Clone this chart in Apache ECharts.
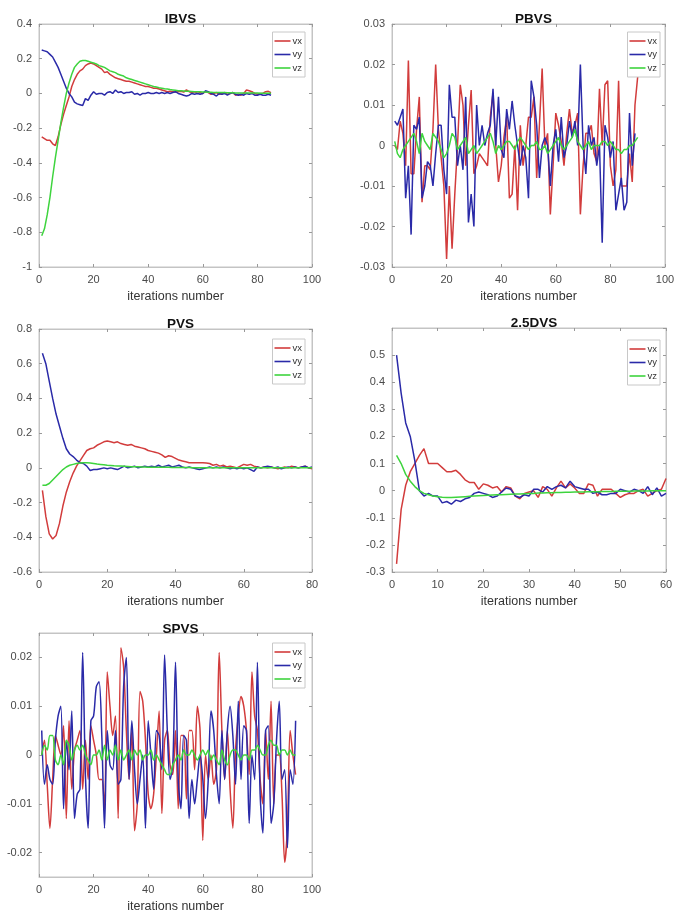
<!DOCTYPE html>
<html>
<head>
<meta charset="utf-8">
<script src="https://cdn.jsdelivr.net/npm/echarts@6/dist/echarts.min.js"></script>
<style>
html,body{margin:0;padding:0;background:#fff;}
#chart{width:685px;height:918px;}
</style>
</head>
<body>
<div id="chart"></div>
<script>
// ---------------- DATA ----------------
const seriesNames = ['vx', 'vy', 'vz'];
const panelTitles = ['IBVS', 'PBVS', 'PVS', '2.5DVS', 'SPVS'];
const xAxisName = 'iterations number';

// IBVS (iterations 1..85)
const ibvsVx = [-0.25,-0.26,-0.27,-0.27,-0.29,-0.30,-0.25,-0.18,-0.12,-0.07,-0.02,0.04,0.08,0.11,0.13,0.14,0.16,0.17,0.175,0.17,
  0.16,0.15,0.14,0.12,0.125,0.11,0.10,0.09,0.085,0.08,0.075,0.07,0.07,0.065,0.06,0.055,0.05,0.045,0.04,0.04,
  0.035,0.03,0.03,0.025,0.02,0.015,0.01,0.012,0.01,0.008,0.01,0.012,0.008,0.02,0.01,0.005,0.01,0.0,0.005,0.0,
  0.01,0.005,-0.005,0.0,0.005,-0.005,0.0,0.005,-0.005,0.0,0.005,-0.01,-0.005,-0.01,0.0,0.02,0.015,0.01,0.0,-0.005,
  0.0,0.0,0.01,0.012,0.005];
const ibvsVy = [0.25,0.245,0.24,0.225,0.21,0.18,0.15,0.11,0.07,0.03,0.0,-0.02,-0.05,-0.06,-0.065,-0.07,-0.03,-0.04,-0.01,0.01,
  -0.005,0.0,0.0,-0.01,0.005,0.01,0.0,0.02,0.005,0.01,0.0,0.005,0.005,0.01,-0.005,0.0,-0.01,0.0,0.0,0.005,
  0.0,0.0,0.005,0.0,0.005,0.0,0.005,0.0,0.005,0.01,0.0,-0.005,-0.01,-0.015,-0.01,0.0,-0.005,0.0,-0.005,0.0,
  0.015,0.01,0.0,-0.005,-0.015,0.0,-0.005,0.0,-0.01,0.0,0.005,-0.005,-0.01,-0.005,-0.01,0.0,-0.005,0.0,-0.01,-0.01,
  -0.005,-0.01,-0.01,-0.005,-0.01];
const ibvsVz = [-0.82,-0.78,-0.70,-0.60,-0.48,-0.37,-0.27,-0.17,-0.08,0.0,0.06,0.11,0.15,0.17,0.185,0.19,0.19,0.185,0.18,0.175,
  0.17,0.16,0.155,0.15,0.14,0.13,0.125,0.12,0.11,0.105,0.10,0.09,0.085,0.08,0.075,0.07,0.065,0.06,0.055,0.05,
  0.045,0.04,0.037,0.033,0.03,0.027,0.025,0.022,0.02,0.018,0.016,0.015,0.014,0.013,0.012,0.011,0.01,0.01,0.009,0.008,
  0.008,0.007,0.007,0.006,0.006,0.005,0.005,0.005,0.004,0.004,0.004,0.003,0.003,0.003,0.003,0.002,0.002,0.002,0.002,0.002,
  0.001,0.001,0.001,0.001,0.001];

// PBVS (iterations 1..90)
const pbvsVx = [0.0,-0.001,0.006,0.003,-0.005,0.021,-0.007,-0.007,0.004,0.012,-0.014,-0.005,-0.005,-0.006,0.004,0.020,0.004,-0.003,-0.01,-0.028,
  -0.01,-0.0255,-0.012,0.0,0.015,0.01,-0.005,0.005,0.0137,-0.007,-0.005,-0.002,-0.003,-0.004,-0.005,0.007,0.013,0.0,-0.009,-0.005,
  0.002,0.007,-0.013,-0.012,0.0,-0.016,0.005,-0.005,0.0,0.007,0.007,0.012,-0.008,0.005,0.019,0.0,0.003,-0.017,-0.005,0.008,
  0.005,0.001,-0.005,0.003,0.009,0.003,0.005,0.008,-0.017,-0.005,0.003,0.003,0.005,-0.002,-0.004,0.014,0.0,0.015,0.016,-0.005,
  -0.01,-0.006,0.016,-0.01,-0.01,-0.01,-0.002,-0.009,0.01,0.017];
const pbvsVy = [0.006,0.005,0.007,0.009,-0.013,-0.005,-0.022,0.005,0.004,0.007,-0.013,-0.01,-0.004,-0.005,-0.01,-0.002,0.005,0.005,-0.006,-0.012,
  0.015,0.007,0.007,-0.005,0.0,-0.006,0.012,-0.019,-0.012,-0.02,0.01,0.0,0.005,0.0,0.003,0.005,0.014,0.0,0.012,-0.001,
  -0.003,0.009,0.004,0.011,0.005,0.0,-0.005,0.0,-0.003,-0.013,0.016,0.012,0.005,-0.008,0.0,0.002,0.0,-0.01,0.0,0.004,
  -0.004,0.007,-0.003,0.0,0.006,0.002,0.006,0.0,0.02,0.0,-0.007,0.005,0.0,0.002,-0.005,0.0,-0.024,0.005,0.002,-0.003,
  0.001,-0.016,-0.012,-0.008,-0.016,-0.014,0.008,-0.005,0.003];
const pbvsVz = [0.001,-0.002,-0.003,-0.001,0.0,0.001,0.002,0.003,0.001,-0.002,0.003,0.001,0.0,-0.001,0.003,0.002,0.001,-0.001,-0.003,-0.002,
  0.0,0.003,0.002,-0.001,0.0,0.001,0.002,-0.002,-0.001,0.0,-0.002,-0.001,0.0,0.001,0.002,0.003,0.001,-0.002,0.0,-0.001,
  0.0,0.001,0.001,0.0,-0.001,0.001,0.002,0.001,0.0,-0.001,0.0,0.0,0.001,-0.001,-0.001,0.0,-0.002,-0.001,0.0,0.001,
  0.002,0.0,-0.001,0.0,0.001,0.002,0.004,0.001,0.0,-0.001,0.0,0.001,-0.001,0.0,0.0,0.0,0.001,0.001,0.0,0.001,
  0.0,-0.001,-0.001,-0.002,-0.001,-0.001,0.0,0.0,0.001,0.002];

// PVS (iterations 1..80)
const pvsVx = [-0.13,-0.28,-0.38,-0.41,-0.39,-0.32,-0.22,-0.14,-0.08,-0.03,0.01,0.04,0.07,0.10,0.11,0.115,0.13,0.14,0.15,0.155,
  0.15,0.145,0.15,0.14,0.135,0.13,0.135,0.125,0.12,0.115,0.11,0.10,0.095,0.09,0.085,0.075,0.06,0.07,0.065,0.055,
  0.045,0.04,0.035,0.03,0.03,0.03,0.03,0.03,0.028,0.025,0.015,0.02,0.01,0.015,0.005,0.01,0.005,0.0,0.01,0.02,
  0.015,0.02,0.01,0.005,0.0,0.005,0.0,0.005,0.0,-0.005,0.0,0.005,0.0,0.01,0.005,0.0,0.005,0.01,0.0,-0.005];
const pvsVy = [0.66,0.60,0.50,0.40,0.31,0.24,0.17,0.11,0.08,0.065,0.045,0.03,0.025,0.01,-0.015,-0.01,-0.01,-0.005,0.0,-0.005,
  0.0,-0.005,-0.01,0.0,0.01,0.0,0.005,0.01,0.0,0.005,0.01,0.005,0.01,0.005,0.015,0.005,0.01,0.015,0.005,0.01,
  0.015,0.005,0.0,0.005,0.0,-0.005,-0.01,-0.005,0.0,0.005,0.0,0.005,0.0,0.005,0.0,-0.005,0.0,-0.005,0.0,-0.005,
  0.0,-0.01,-0.02,0.005,0.0,0.005,0.01,0.005,0.0,0.005,-0.005,0.0,0.005,0.0,0.005,0.0,0.005,0.01,0.0,0.005];
const pvsVz = [-0.10,-0.10,-0.09,-0.07,-0.05,-0.03,-0.01,0.005,0.015,0.02,0.025,0.028,0.03,0.03,0.028,0.025,0.022,0.02,0.018,0.015,
  0.014,0.012,0.011,0.01,0.009,0.008,0.007,0.006,0.006,0.005,0.005,0.004,0.004,0.004,0.003,0.003,0.003,0.003,0.002,0.002,
  0.002,0.002,0.002,0.002,0.001,0.001,0.001,0.001,0.001,0.001,0.001,0.001,0.0,0.0,0.0,0.0,0.0,0.0,0.0,0.0,
  0.0,0.0,0.0,0.0,0.0,0.0,0.0,0.0,0.0,0.0,0.0,0.0,0.0,0.0,0.0,0.0,0.0,0.0,0.0,0.0];

// 2.5DVS (iterations 1..60)
const dvsVx = [-0.27,-0.07,0.02,0.07,0.10,0.13,0.155,0.10,0.10,0.10,0.085,0.07,0.07,0.075,0.06,0.04,0.03,0.03,0.005,0.025,
  0.02,0.01,0.015,-0.005,0.015,0.01,-0.02,-0.03,-0.01,-0.005,0.0,-0.025,0.015,0.005,-0.02,0.01,0.035,0.01,0.025,0.01,
  -0.01,-0.01,0.025,0.02,-0.02,0.005,0.005,0.005,-0.01,-0.025,-0.015,-0.01,-0.01,0.0,0.005,-0.02,-0.01,0.0,0.005,0.045];
const dvsVy = [0.50,0.36,0.25,0.20,0.11,0.0,-0.02,-0.01,-0.02,-0.02,-0.045,-0.04,-0.05,-0.035,-0.04,-0.03,-0.025,-0.01,-0.005,-0.01,
  -0.015,-0.025,-0.02,-0.005,0.01,0.005,-0.02,-0.025,-0.015,-0.02,0.005,0.005,-0.005,0.015,0.005,0.015,0.02,0.01,0.035,0.015,
  0.01,0.005,0.005,-0.01,-0.005,-0.015,-0.015,-0.01,-0.01,0.005,0.0,-0.005,0.005,0.0,-0.01,0.015,-0.015,0.01,-0.02,-0.01];
const dvsVz = [0.13,0.10,0.06,0.035,0.015,0.0,-0.01,-0.015,-0.02,-0.022,-0.024,-0.025,-0.025,-0.024,-0.023,-0.022,-0.021,-0.02,-0.019,-0.018,
  -0.017,-0.016,-0.015,-0.015,-0.014,-0.013,-0.012,-0.012,-0.011,-0.01,-0.01,-0.009,-0.009,-0.008,-0.008,-0.007,-0.007,-0.006,-0.006,-0.005,
  -0.005,-0.005,-0.004,-0.004,-0.004,-0.003,-0.003,-0.003,-0.002,-0.002,-0.002,-0.002,-0.001,-0.001,-0.001,-0.001,0.0,0.0,0.0,0.0];

// SPVS (iterations 1..94)
const spvsVx = [0.0,0.003,-0.006,-0.015,-0.005,0.004,0.002,0.0,0.006,-0.013,0.007,-0.007,0.001,0.003,0.005,-0.007,0.003,-0.005,0.006,0.003,
  0.0,-0.005,-0.005,-0.011,0.017,0.01,0.004,0.008,-0.013,0.022,0.018,0.005,-0.005,0.005,-0.0155,-0.01,0.013,0.011,0.003,-0.008,
  -0.011,-0.008,0.0,0.009,-0.012,0.003,0.005,-0.002,-0.004,0.005,-0.011,0.004,0.004,-0.009,0.005,0.005,-0.003,0.01,0.005,-0.0175,
  0.0,-0.005,0.0,-0.006,-0.003,0.021,0.005,-0.005,0.005,-0.007,-0.015,0.001,0.008,0.012,0.01,0.005,-0.004,0.017,0.008,0.005,
  -0.005,-0.01,0.005,-0.005,0.011,-0.01,0.0,0.0,-0.008,-0.022,-0.015,0.005,0.0,-0.004];
const spvsVy = [0.005,-0.006,-0.002,-0.005,-0.006,0.003,0.008,0.01,-0.011,0.003,-0.003,0.009,-0.013,-0.008,-0.007,0.021,-0.004,-0.015,0.007,0.008,
  0.014,0.015,0.004,-0.015,0.005,-0.002,-0.003,0.005,-0.006,-0.005,0.014,0.02,-0.005,0.007,-0.003,-0.01,-0.005,0.0,-0.015,0.007,
  0.0,-0.007,0.005,0.004,-0.003,0.0205,0.005,-0.005,-0.002,0.019,-0.005,-0.011,0.004,0.003,-0.013,-0.005,-0.01,-0.005,0.0,-0.005,
  -0.013,-0.005,0.009,0.005,-0.004,-0.01,0.005,-0.005,0.005,0.01,0.004,-0.006,0.011,-0.005,0.006,0.005,-0.014,0.0,-0.005,0.019,
  -0.008,-0.016,0.005,0.006,-0.014,-0.01,0.003,0.011,-0.005,-0.003,-0.019,-0.003,-0.006,0.007];
const spvsVz = [0.0,0.002,0.001,0.004,0.004,-0.001,-0.002,0.0,-0.002,0.003,0.002,-0.001,0.001,0.002,0.001,0.002,0.0,-0.001,-0.002,0.0,
  0.0,0.001,-0.001,0.002,-0.001,0.001,0.0,0.002,-0.001,0.001,-0.001,0.0,0.001,-0.001,0.001,0.0,0.001,-0.001,0.0,0.0,
  0.001,-0.001,0.0,-0.001,-0.002,-0.003,-0.004,-0.004,-0.002,-0.001,0.0,-0.001,0.001,0.0,0.0,0.001,0.0,-0.001,0.0,0.001,
  0.0,0.001,-0.001,0.0,-0.001,-0.002,0.001,-0.001,-0.002,0.0,0.001,0.001,0.0,-0.001,0.0,0.0,-0.001,0.001,0.001,0.002,
  0.001,0.0,0.0,0.002,0.003,0.002,0.002,0.0,0.001,0.001,0.0,0.001,0.0,0.0];

// axis ranges / ticks
const xRanges = [[0,100,20],[0,100,20],[0,80,20],[0,60,10],[0,100,20]];
const yRanges = [[-1,0.4,0.2],[-0.03,0.03,0.01],[-0.6,0.8,0.2],[-0.3,0.6,0.1],[-0.025,0.025,null]];
const spvsYTicks = [-0.02,-0.01,0,0.01,0.02];

const panelData = [
  [ibvsVx, ibvsVy, ibvsVz],
  [pbvsVx, pbvsVy, pbvsVz],
  [pvsVx, pvsVy, pvsVz],
  [dvsVx, dvsVy, dvsVz],
  [spvsVx, spvsVy, spvsVz]
];

// ---------------- LAYOUT / STYLE ----------------
const FONT = '"Liberation Sans", Arial, Helvetica, sans-serif';
const colors = ['#d23c3c', '#2a2aa8', '#3ed43e'];
const panelSmooth = [false, false, false, false, 0.3];
const boxes = [
  {left:39, top:24, width:273, height:243},
  {left:392, top:24, width:273, height:243},
  {left:39, top:329, width:273, height:243},
  {left:392, top:328, width:274, height:244},
  {left:39, top:633, width:273, height:244}
];
const titleTops = [7, 7, 312, 311, 617];
const legendPos = [
  {right:380, top:32}, {right:25, top:32}, {right:380, top:339}, {right:25, top:340}, {right:380, top:643}
];
const axisColor = '#c4c4c4';
const labelColor = '#4a4a4a';

function fmt(v){
  let s = (+v.toFixed(4)).toString();
  if (s === '-0') s = '0';
  return s;
}

const grid = [], xAxis = [], yAxis = [], title = [], legend = [], series = [];

boxes.forEach((b, i) => {
  grid.push({left:b.left, top:b.top, width:b.width, height:b.height, containLabel:false,
    show:true, borderColor:axisColor, borderWidth:1, backgroundColor:'#fff'});
  title.push({text: panelTitles[i], left: b.left + b.width/2, top: titleTops[i], textAlign:'center',
    textStyle:{fontFamily:FONT, fontSize:13.5, fontWeight:'bold', color:'#111'}});
  legend.push({data: seriesNames.slice(), orient:'vertical', right:legendPos[i].right, top:legendPos[i].top,
    icon:'rect', itemWidth:16, itemHeight:1.6, itemGap:1.5, padding:[3,3,3,2],
    borderColor:'#c8c8c8', borderWidth:1, backgroundColor:'#fff', selectedMode:false,
    textStyle:{fontFamily:FONT, fontSize:9.5, color:'#333', lineHeight:12, padding:[0,0,0,-3]}});
});

const tickStyle = {show:true, inside:true, length:3, lineStyle:{color:'#999'}};
const lineStyle = {show:true, onZero:false, lineStyle:{color:axisColor, width:1}};

// bottom x axes (0..4)
boxes.forEach((b, i) => {
  const r = xRanges[i];
  xAxis.push({type:'value', gridIndex:i, position:'bottom', min:r[0], max:r[1], interval:r[2],
    name: xAxisName, nameLocation:'middle', nameGap:23,
    nameTextStyle:{fontFamily:FONT, fontSize:12.5, color:'#333', verticalAlign:'top'},
    axisLine:lineStyle, axisTick:tickStyle,
    axisLabel:{show:true, margin:7, fontFamily:FONT, fontSize:11, color:labelColor, formatter:fmt},
    splitLine:{show:false}});
});
// top x axes (5..9)
boxes.forEach((b, i) => {
  const r = xRanges[i];
  xAxis.push({type:'value', gridIndex:i, position:'top', min:r[0], max:r[1], interval:r[2],
    axisLine:lineStyle, axisTick:tickStyle,
    axisLabel:{show:false}, splitLine:{show:false}});
});
// left y axes (0..4), right y axes (5..9)
['left','right'].forEach(pos => {
  boxes.forEach((b, i) => {
    const r = yRanges[i];
    const ax = {type:'value', gridIndex:i, position:pos, min:r[0], max:r[1],
      axisLine:lineStyle,
      axisTick:{show:true, inside:true, length:3, lineStyle:{color:'#999'}},
      axisLabel:{show: pos==='left', margin:7, fontFamily:FONT, fontSize:11, color:labelColor, formatter:fmt},
      splitLine:{show:false}};
    if (r[2] !== null) {
      ax.interval = r[2];
    } else {
      ax.axisLabel.customValues = spvsYTicks;
      ax.axisTick.customValues = spvsYTicks;
    }
    if (i === 3) { ax.axisLabel.showMaxLabel = false; }
    yAxis.push(ax);
  });
});

panelData.forEach((arrs, i) => {
  arrs.forEach((arr, k) => {
    series.push({type:'line', name: seriesNames[k], xAxisIndex:i, yAxisIndex:i,
      data: arr.map((v, j) => [j + 1, v]),
      showSymbol:false, symbol:'none', silent:true, clip:true, smooth: panelSmooth[i],
      lineStyle:{width:1.5, color:colors[k]}, itemStyle:{color:colors[k]}, z: 2 + k});
  });
});

const chart = echarts.init(document.getElementById('chart'), null, {renderer:'canvas', width:685, height:918});
chart.setOption({animation:false, backgroundColor:'#fff', title, legend, grid, xAxis, yAxis, series});
</script>
</body>
</html>
